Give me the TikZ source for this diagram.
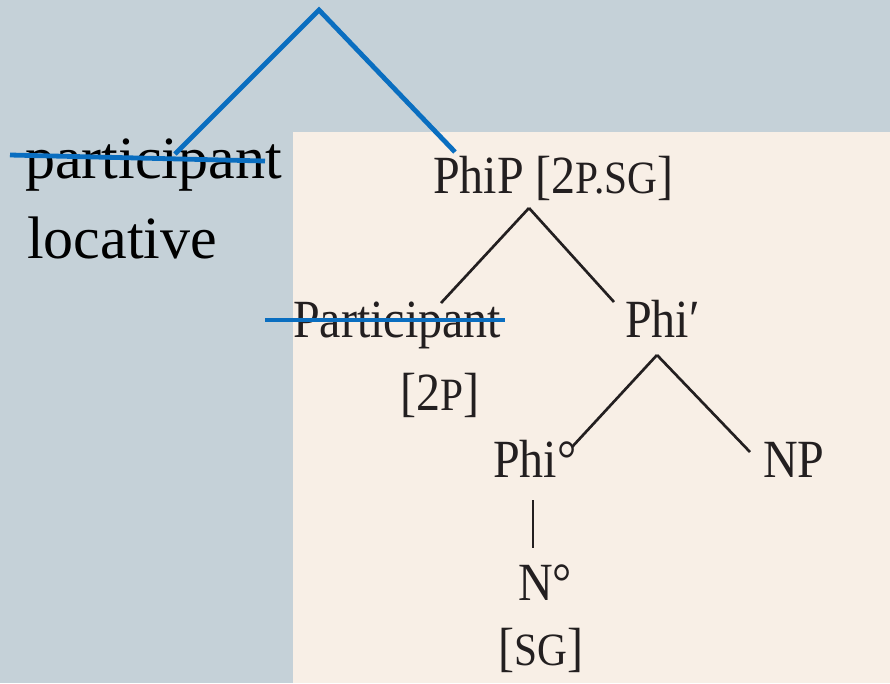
\documentclass[tikz,border=0pt]{standalone}
\usepackage{fontspec}
\setmainfont{Liberation Serif}
\usetikzlibrary{positioning}
\definecolor{bgSlate}{HTML}{C5D1D8}
\definecolor{paperBeige}{HTML}{F8EFE6}
\definecolor{markBlue}{HTML}{0A6EC0}
\definecolor{inkDark}{HTML}{231F20}
\newcommand{\featsc}[1]{{\fontsize{31}{34}\selectfont #1}}
\newcommand{\treelab}[1]{\scalebox{1}[1.12]{#1}}

\begin{document}
\begin{tikzpicture}[x=0.75pt,y=-0.75pt,
    lbl/.style={inner sep=0pt,anchor=base west,text=inkDark,
      font=\fontsize{36}{40}\selectfont},
    note/.style={inner sep=0pt,anchor=base west,
      font=\fontsize{45}{50}\selectfont},
    branch/.style={draw=inkDark,line width=2pt},
    strike/.style={draw=markBlue,line width=3.6pt}]
  \useasboundingbox (0,0) rectangle (890,683);
  \fill[bgSlate] (0,0) rectangle (890,683);
  \fill[paperBeige] (293,132) rectangle (890,683);

  % left-hand words
  \node[note] (partword) at (25,178) {participant};
  \node[note] (locword) at (27,258) {locative};

  % tree labels
  \node[lbl] (phip) at (433,193) {\treelab{PhiP [2\featsc{P.SG}]}};
  \node[lbl] (partc) at (293,337) {\treelab{Participant}};
  \node[lbl] (twop) at (400,410) {\treelab{[2\featsc{P}]}};
  \node[lbl] (phibar) at (625,337) {\treelab{Phi′}};
  \node[lbl] (phihead) at (493,477) {\treelab{Phi°}};
  \node[lbl] (np) at (763,477) {\treelab{NP}};
  \node[lbl] (nhead) at (518,600) {\treelab{N°}};
  \node[lbl] (sg) at (498,665) {\treelab{[\featsc{SG}]}};

  % branch ends
  \coordinate (phip-b) at (529,208);
  \coordinate (partc-t) at (441,303);
  \coordinate (phibar-t) at (614,302);
  \coordinate (phibar-b) at (657,355);
  \coordinate (phihead-t) at (572,447);
  \coordinate (np-t) at (750,452);
  \coordinate (phihead-b) at (533,500);
  \coordinate (nhead-t) at (533,548);

  \draw[branch] (phip-b) -- (partc-t);
  \draw[branch] (phip-b) -- (phibar-t);
  \draw[branch] (phibar-b) -- (phihead-t);
  \draw[branch] (phibar-b) -- (np-t);
  \draw[branch] (phihead-b) -- (nhead-t);

  % blue marks
  \coordinate (apex) at (319,10);
  \coordinate (mark-l) at (175,154);
  \coordinate (mark-r) at (455,152);
  \coordinate (cut1-l) at (10,155);
  \coordinate (cut1-r) at (265,161);
  \coordinate (cut2-l) at (265,320);
  \coordinate (cut2-r) at (505,320);
  \draw[strike] (mark-l) -- (apex) -- (mark-r);
  \draw[strike] (cut1-l) -- (cut1-r);
  \draw[strike] (cut2-l) -- (cut2-r);
\end{tikzpicture}
\end{document}
